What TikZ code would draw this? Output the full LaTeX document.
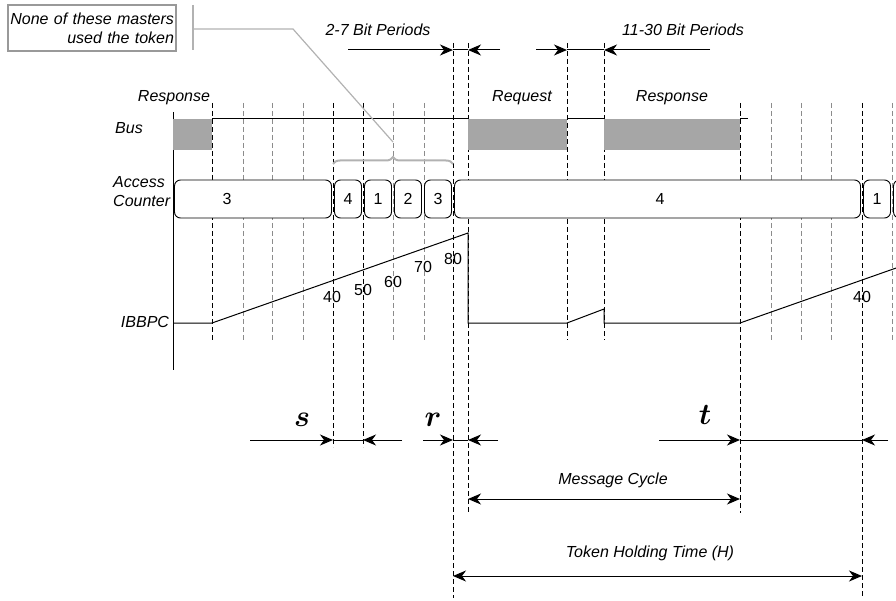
\RequirePackage{fix-cm}
\documentclass[tikz,border=0pt]{standalone}
\usepackage{fontspec}
\setmainfont{Liberation Sans}
\usepackage{amsmath}
\usetikzlibrary{arrows.meta,positioning,decorations.pathreplacing}

\begin{document}
\begin{tikzpicture}[x=1pt,y=-1pt,
    lbl/.style={font=\fontsize{16}{19}\selectfont\itshape},
    num/.style={font=\fontsize{16}{19}\selectfont},
    var/.style={font=\fontsize{30}{32}\selectfont},
    gridline/.style={dash pattern=on 5pt off 3pt,line width=.7pt},
    busblock/.style={fill=gray!70,draw=none},
    cntbox/.style={draw,fill=white,line width=.9pt,rounded corners=6pt},
    sig/.style={line width=1pt},
    dim/.style={line width=1pt,-{Stealth[length=13pt,width=11pt,inset=4pt]}},
    dimboth/.style={line width=1pt,{Stealth[length=13pt,width=11pt,inset=4pt]}-{Stealth[length=13pt,width=11pt,inset=4pt]}},
    callout/.style={gray!60,line width=1.2pt}]
  \useasboundingbox (0,0) rectangle (896,601);

  % bit period grid
  \foreach \x/\a/\b/\c in {212/103/340/black,243/103/340/black!45,272/103/340/black!45,
      303/103/340/black!45,333/103/447/black,363/103/447/black,393/103/340/black!45,
      424/103/340/black!45,453/43/598/black,468/43/513/black,567/43/340/black,
      604/43/340/black,740/103/513/black,771/103/340/black!45,801/103/340/black!45,
      831/103/340/black!45,862/103/598/black,892/103/340/black!45}
    \draw[gridline,\c] (\x,\a) -- (\x,\b);

  % axis
  \draw[sig] (173,112) -- (173,370);

  % bus
  \draw[sig] (212,119) -- (468,119) (567,119) -- (604,119) (740,119) -- (748,119);
  \fill[busblock] (173,119) rectangle (212,150);
  \fill[busblock] (468,119) rectangle (567,150);
  \fill[busblock] (604,119) rectangle (740,150);

  % access counter
  \foreach \a/\b in {173/333,333/363,363/393,393/423,423/453,453/862,862/892,892/940}
    \draw[cntbox] (\a+1.5,180) rectangle (\b-1.5,218);
  \node[num] (cnt3a) at (227,199) {3};
  \node[num] (cnt4a) at (348,199) {4};
  \node[num] (cnt1a) at (378,199) {1};
  \node[num] (cnt2a) at (408,199) {2};
  \node[num] (cnt3b) at (438,199) {3};
  \node[num] (cnt4b) at (660,199) {4};
  \node[num] (cnt1b) at (877,199) {1};

  % IBBPC
  \draw[sig] (173,323) -- (212,323) -- (468,233) -- (468,323) -- (567,323)
    -- (604,309) -- (604,323) -- (740,323) -- (916,261);
  \node[num] (v40a) at (332,297) {40};
  \node[num] (v50) at (363,290) {50};
  \node[num] (v60) at (393,282) {60};
  \node[num] (v70) at (423,267) {70};
  \node[num] (v80) at (453,259) {80};
  \node[num] (v40b) at (862,297) {40};

  % row labels
  \node[lbl] (resp1) at (174,98) {Response};
  \node[lbl] (bus) at (129,128) {Bus};
  \node[lbl,align=left,anchor=west,inner sep=0pt] (acc) at (113,192) {Access\\Counter};
  \node[lbl] (ibbpc) at (145,322) {IBBPC};
  \node[lbl] (req) at (522,98) {Request};
  \node[lbl] (resp2) at (672,98) {Response};

  % bit periods
  \node[lbl] (bp1) at (378,30) {2-7 Bit Periods};
  \node[lbl] (bp2) at (683,30) {11-30 Bit Periods};
  \draw[dim] (348,50) -- (453,50);
  \draw[sig] (453,50) -- (468,50);
  \draw[dim] (500,50) -- (468,50);
  \draw[dim] (536,50) -- (567,50);
  \draw[sig] (567,50) -- (604,50);
  \draw[dim] (710,50) -- (604,50);

  % callout
  \node[lbl,draw=gray!80,line width=1.2pt,align=right,text width=164pt,inner sep=2pt,
    minimum height=46pt] (note) at (92,28)
    {None of these masters\\used the token};
  \coordinate (bartop) at (193,5);
  \coordinate (barbot) at (193,50);
  \coordinate (bendA) at (193,29);
  \coordinate (bendB) at (293,29);
  \coordinate (bracetip) at (393,142);
  \draw[callout] (bartop) -- (barbot);
  \draw[callout] (bendA) -- (bendB) -- (bracetip);
  \draw[gray!60,line width=2pt,decorate,decoration={brace,amplitude=7pt}] (333,164) -- (453,164);

  % s, r, t
  \node[var] (s) at (302,420) {$\boldsymbol{s}$};
  \node[var] (r) at (433,420) {$\boldsymbol{r}$};
  \node[var] (t) at (705,415) {$\boldsymbol{t}$};
  \draw[dim] (250,440) -- (333,440);
  \draw[sig] (333,440) -- (363,440);
  \draw[dim] (402,440) -- (363,440);
  \draw[dim] (423,440) -- (453,440);
  \draw[sig] (453,440) -- (468,440);
  \draw[dim] (498,440) -- (468,440);
  \draw[dim] (659,440) -- (740,440);
  \draw[sig] (740,440) -- (862,440);
  \draw[dim] (888,440) -- (862,440);

  % cycles
  \node[lbl] (mc) at (613,480) {Message Cycle};
  \draw[dimboth] (468,499) -- (740,499);
  \node[lbl] (th) at (650,553) {Token Holding Time (H)};
  \draw[dimboth] (453,576) -- (862,576);
\end{tikzpicture}
\end{document}
